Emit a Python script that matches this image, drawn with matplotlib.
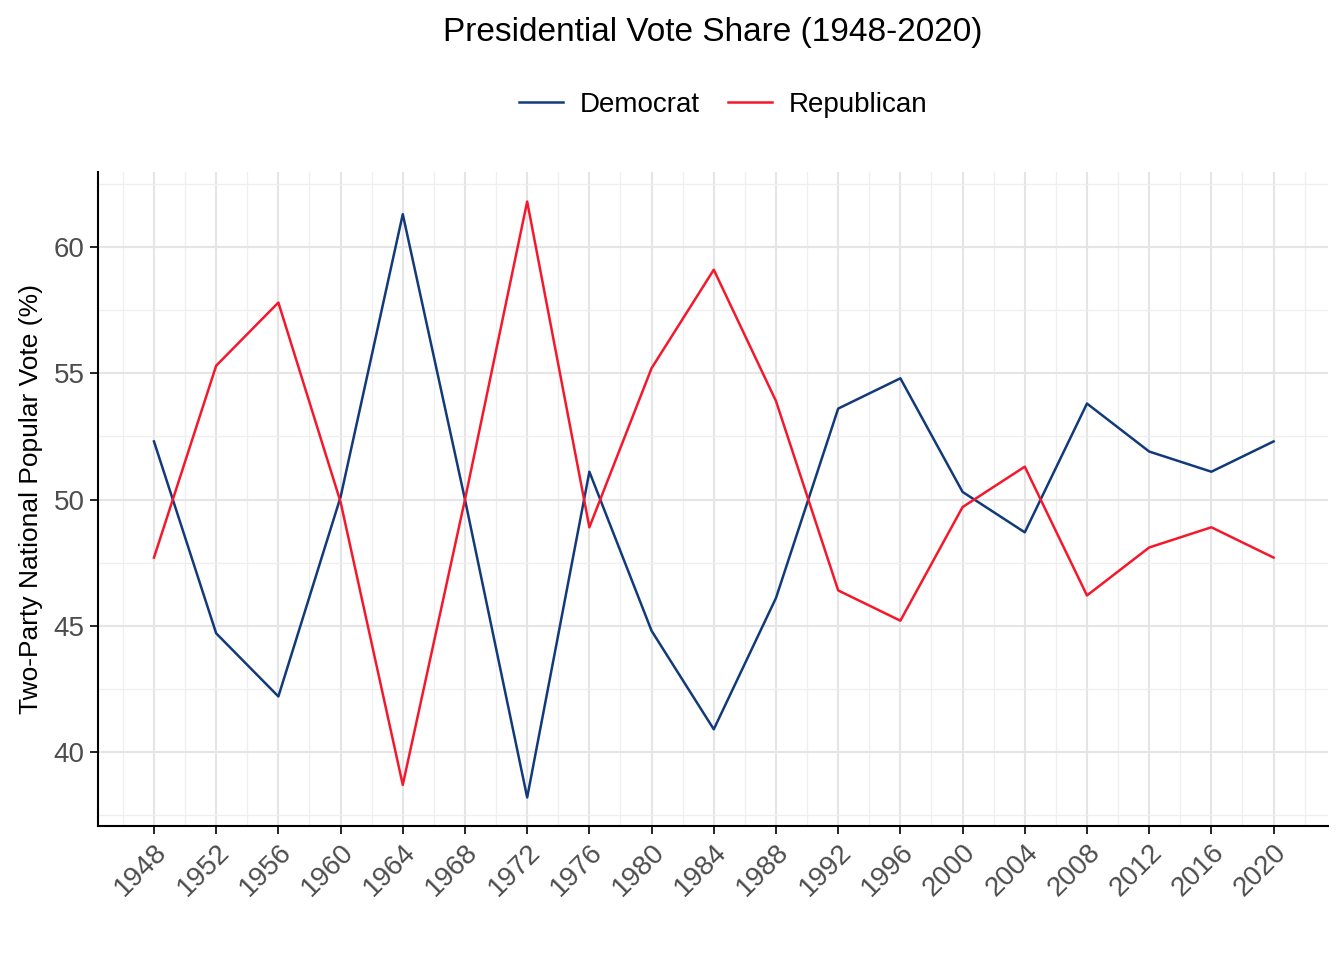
import matplotlib
matplotlib.use("Agg")
import matplotlib.pyplot as plt
import numpy as np

years = list(range(1948, 2021, 4))
dem = [52.3, 44.7, 42.2, 50.1, 61.3, 50.0, 38.2, 51.1, 44.8, 40.9, 46.1, 53.6, 54.8, 50.3, 48.7, 53.8, 51.9, 51.1, 52.3]
rep = [47.7, 55.3, 57.8, 49.9, 38.7, 50.0, 61.8, 48.9, 55.2, 59.1, 53.9, 46.4, 45.2, 49.7, 51.3, 46.2, 48.1, 48.9, 47.7]

plt.rcParams['font.family'] = ['Liberation Sans', 'DejaVu Sans']
fig = plt.figure(figsize=(13.44, 9.6), dpi=100)
ax = fig.add_axes([98/1344, 1-826/960, (1328-98)/1344, (826-172)/960])
ax.plot(years, dem, color='#123a7a', lw=1.8, label='Democrat')
ax.plot(years, rep, color='#f5182c', lw=1.8, label='Republican')
ax.set_xlim(1944.4, 2023.5)
ax.set_ylim(37.07, 62.97)
ax.set_xticks(years)
ax.set_xticklabels([str(y) for y in years], rotation=45, ha='right', rotation_mode='anchor', fontsize=20, color='#4d4d4d')
ax.set_xticks(np.arange(1946, 2024, 4), minor=True)
ax.set_yticks([40, 45, 50, 55, 60])
ax.set_yticks([37.5, 42.5, 47.5, 52.5, 57.5, 62.5], minor=True)
ax.tick_params(axis='y', labelsize=20, labelcolor='#4d4d4d')
ax.tick_params(which='minor', length=0)
ax.tick_params(which='major', length=6, width=1.2)
ax.grid(which='major', color='#e5e5e5', lw=1.5)
ax.grid(which='minor', color='#efefef', lw=0.9)
ax.set_axisbelow(True)
for s in ['top', 'right']:
    ax.spines[s].set_visible(False)
for s in ['left', 'bottom']:
    ax.spines[s].set_linewidth(1.5)
ax.set_ylabel('Two-Party National Popular Vote (%)', fontsize=19, labelpad=8)
fig.text(713/1344, 1-32/960, 'Presidential Vote Share (1948-2020)', ha='center', va='center', fontsize=24)
fig.legend(loc='center', bbox_to_anchor=(723/1344, 1-105/960), ncol=2, frameon=False, fontsize=20, handlelength=1.6, handletextpad=0.6, columnspacing=1.0)
fig.savefig('out.png', dpi=100)
